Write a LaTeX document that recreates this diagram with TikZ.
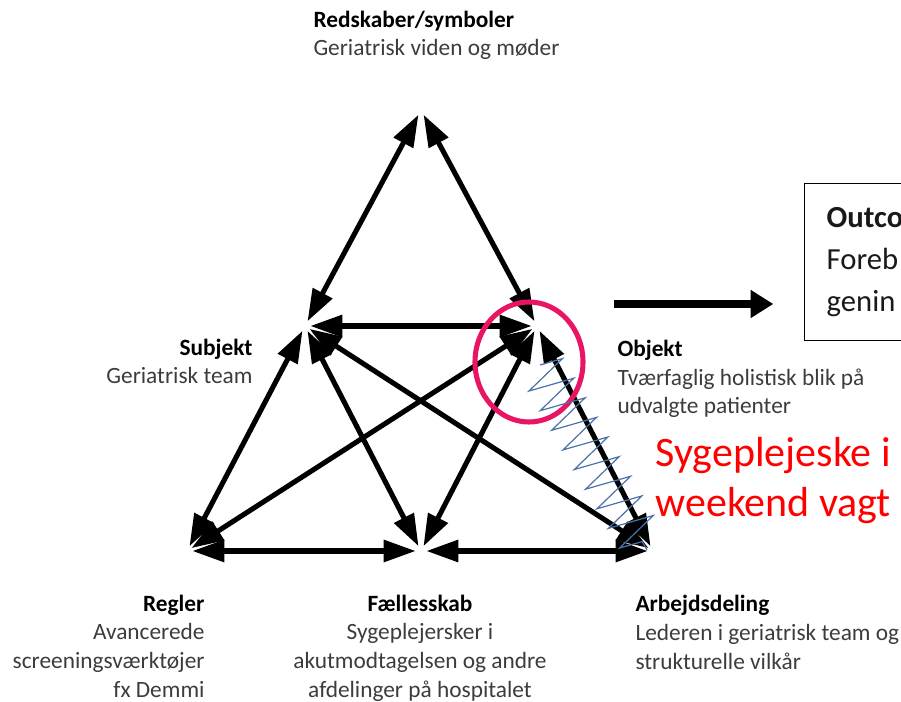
\documentclass[tikz,border=0pt]{standalone}
\usepackage{fontspec}
\setmainfont{Carlito}
\usetikzlibrary{arrows.meta,decorations.pathmorphing}

\definecolor{txtgray}{RGB}{60,60,60}
\definecolor{ringred}{RGB}{232,20,100}
\definecolor{zigblue}{RGB}{74,114,168}

\tikzset{every picture/.style={line width=0.75pt}}
\tikzset{
  link/.style={line width=3.8pt, {Triangle[length=24pt,width=16pt]}-{Triangle[length=24pt,width=16pt]}, shorten <=4pt, shorten >=4pt},
  lbl/.style={inner sep=0pt, text=txtgray, font=\fontsize{17.5}{21.5}\selectfont},
}

\begin{document}
\begin{tikzpicture}[x=0.75pt,y=0.75pt,yscale=-1,xscale=1]
\useasboundingbox (0,0) rectangle (901,702);
\clip (0,0) rectangle (901,702);

% corners of the two triangles
\coordinate (red) at (421,110);
\coordinate (sub) at (305,326);
\coordinate (obj) at (537,326);
\coordinate (reg) at (187,551);
\coordinate (fael) at (421,551);
\coordinate (arb) at (653,551);

%Straight Lines
\draw [link] (red) -- (sub);
\draw [link] (red) -- (obj);
\draw [link] (sub) -- (obj);
\draw [link] (sub) -- (reg);
\draw [link] (sub) -- (fael);
\draw [link] (sub) -- (arb);
\draw [link] (obj) -- (reg);
\draw [link] (obj) -- (fael);
\draw [link] (obj) -- (arb);
\draw [link] (reg) -- (fael);
\draw [link] (fael) -- (arb);

%Shape: Ellipse
\draw [ringred, line width=3.8pt] (529,362) ellipse [x radius=54, y radius=60];

%Zigzag
\coordinate (zigtop) at (540,365);
\coordinate (zigbot) at (647,550);
\draw [zigblue, line width=0.9pt, decorate, decoration={zigzag, segment length=17pt, amplitude=17pt}] (zigtop) -- (zigbot);

%Outcome box
\node [draw, line width=1.1pt, anchor=north west, minimum height=117.75pt, text width=150pt, inner xsep=16.5pt, align=left, font=\fontsize{23}{31.5}\selectfont, text=black!90] (outc) at (804,183) {\textbf{Outco}\\Foreb\\genin};
\coordinate (outstart) at (614,304);
\draw [line width=6pt, -{Triangle[length=17pt,width=20pt]}, shorten >=23pt] (outstart) -- (outstart -| outc.west);

% Text Node
\node [lbl, anchor=base west, align=left] (redlbl) at (313,56) {\textbf{\color{black}Redskaber/symboler}\\Geriatrisk viden og møder};
% Text Node
\node [lbl, anchor=base east, align=right] (sublbl) at (253,384) {\textbf{\color{black}Subjekt}\\Geriatrisk team};
% Text Node
\node [lbl, anchor=base west, align=left] (objlbl) at (617,414) {\textbf{\color{black}Objekt}\\Tværfaglig holistisk blik på\\udvalgte patienter};
% Text Node
\node [lbl, anchor=base east, align=right] (reglbl) at (205,697) {\textbf{\color{black}Regler}\\Avancerede\\screeningsværktøjer\\fx Demmi};
% Text Node
\node [lbl, anchor=base, align=center] (faellbl) at (420,697) {\textbf{\color{black}Fællesskab}\\Sygeplejersker i\\akutmodtagelsen og andre\\afdelinger på hospitalet};
% Text Node
\node [lbl, anchor=base west, align=left] (arblbl) at (635,669) {\textbf{\color{black}Arbejdsdeling}\\Lederen i geriatrisk team og\\strukturelle vilkår};
% Text Node
\node [anchor=base west, inner sep=0pt, text=red, font=\fontsize{31.5}{37.5}\selectfont, align=left] (vagt) at (655,517) {Sygeplejeske i\\weekend vagt};

\end{tikzpicture}
\end{document}
